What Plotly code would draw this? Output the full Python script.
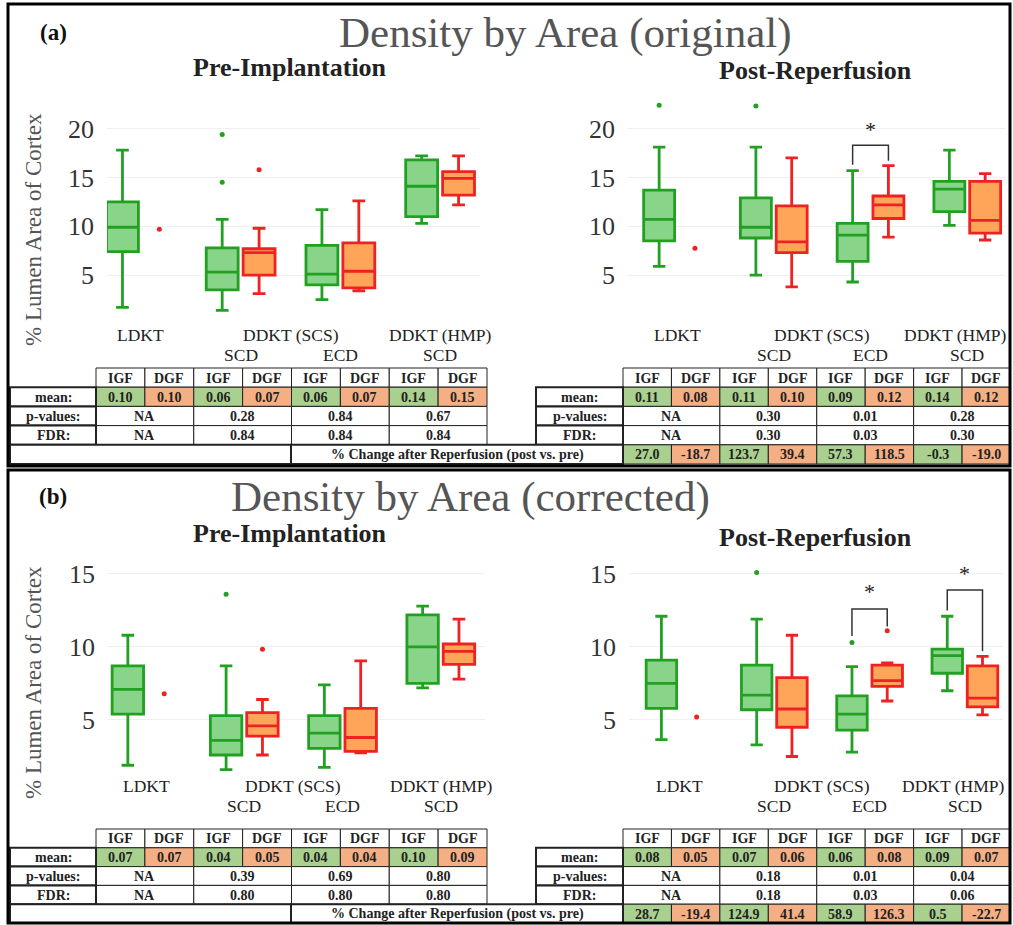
import plotly.graph_objects as go

W, H = 1013, 925
FONT = "Liberation Serif, Times New Roman, serif"

# ---------------- data ----------------
groups = ["LDKT", "SCD", "ECD", "HMP"]
dgf_groups = ["SCD", "ECD", "HMP"]
row1_labels = ["LDKT", "DDKT (SCS)", "DDKT (HMP)"]
row1_pos = [0, 1.5, 3]
row2_labels = ["SCD", "ECD", "SCD"]
row2_pos = [1, 2, 3]

# box stats: (lower whisker, q1, median, q3, upper whisker)
a_pre_igf = [(1.7, 7.4, 9.9, 12.5, 17.8), (1.4, 3.5, 5.3, 7.8, 10.7),
             (2.5, 4.0, 5.1, 8.05, 11.7), (10.3, 11.0, 14.1, 16.8, 17.2)]
a_pre_dgf = [(3.1, 5.0, 7.3, 7.7, 9.8), (3.4, 3.7, 5.4, 8.3, 12.6),
             (12.2, 13.2, 14.9, 15.6, 17.2)]
a_post_igf = [(5.9, 8.5, 10.7, 13.7, 18.1), (5.0, 8.8, 9.9, 12.9, 18.1),
              (4.3, 6.4, 9.1, 10.3, 15.7), (10.1, 11.5, 13.8, 14.6, 17.8)]
a_post_dgf = [(3.8, 7.3, 8.4, 12.1, 17.0), (8.9, 10.8, 12.2, 13.1, 16.2),
              (8.6, 9.3, 10.6, 14.6, 15.4)]
b_pre_igf = [(1.9, 5.4, 7.1, 8.7, 10.8), (1.6, 2.6, 3.6, 5.3, 8.7),
             (1.75, 3.05, 4.1, 5.3, 7.4), (7.2, 7.5, 10.0, 12.2, 12.8)]
b_pre_dgf = [(2.6, 3.9, 4.6, 5.5, 6.4), (2.75, 2.85, 3.8, 5.8, 9.05),
             (7.8, 8.8, 9.7, 10.2, 11.9)]
b_post_igf = [(3.65, 5.8, 7.5, 9.1, 12.1), (3.3, 5.7, 6.7, 8.75, 11.9),
              (2.8, 4.3, 5.4, 6.65, 8.65), (7.0, 8.2, 9.4, 9.85, 12.1)]
b_post_dgf = [(2.5, 4.5, 5.75, 7.9, 10.8), (6.3, 7.3, 7.7, 8.75, 8.9),
              (5.35, 5.9, 6.5, 8.7, 9.35)]

# single DGF LDKT observation per plot
a_pre_dgf_ldkt = 9.7
a_post_dgf_ldkt = 7.75
b_pre_dgf_ldkt = 6.8
b_post_dgf_ldkt = 5.2

# outliers: (group, value)
a_pre_out_igf = [("SCD", 19.4), ("SCD", 14.5)]
a_pre_out_dgf = [("SCD", 15.8)]
a_post_out_igf = [("LDKT", 22.4), ("SCD", 22.3)]
a_post_out_dgf = []
b_pre_out_igf = [("SCD", 13.6)]
b_pre_out_dgf = [("SCD", 9.85)]
b_post_out_igf = [("SCD", 15.1), ("ECD", 10.3)]
b_post_out_dgf = [("ECD", 11.1)]

# significance brackets: (group, top, left leg bottom, right leg bottom, star y)
a_post_sig = [("ECD", 18.3, 16.3, 16.7, 19.9)]
b_post_sig = [("ECD", 12.6, 10.75, 11.4, 13.8), ("HMP", 13.9, 12.5, 9.7, 15.0)]

# tables
a_pre_mean = [0.10, 0.10, 0.06, 0.07, 0.06, 0.07, 0.14, 0.15]
a_pre_p = ["NA", "0.28", "0.84", "0.67"]
a_pre_fdr = ["NA", "0.84", "0.84", "0.84"]
a_post_mean = [0.11, 0.08, 0.11, 0.10, 0.09, 0.12, 0.14, 0.12]
a_post_p = ["NA", "0.30", "0.01", "0.28"]
a_post_fdr = ["NA", "0.30", "0.03", "0.30"]
a_change = [27.0, -18.7, 123.7, 39.4, 57.3, 118.5, -0.3, -19.0]
b_pre_mean = [0.07, 0.07, 0.04, 0.05, 0.04, 0.04, 0.10, 0.09]
b_pre_p = ["NA", "0.39", "0.69", "0.80"]
b_pre_fdr = ["NA", "0.80", "0.80", "0.80"]
b_post_mean = [0.08, 0.05, 0.07, 0.06, 0.06, 0.08, 0.09, 0.07]
b_post_p = ["NA", "0.18", "0.01", "0.04"]
b_post_fdr = ["NA", "0.18", "0.03", "0.06"]
b_change = [28.7, -19.4, 124.9, 41.4, 58.9, 126.3, 0.5, -22.7]
status_labels = ["IGF", "DGF"]

# ---------------- style ----------------
GREEN_LINE = "#22a022"
GREEN_FILL = "#88d488"
RED_LINE = "#ee2222"
RED_FILL = "#ffa55a"
CELL_GREEN = "#a9d08e"
CELL_ORANGE = "#f4b084"
OFF = 0.185
BW = 0.32


def px(x):
    return x / W


def py(y):
    return 1 - y / H


fig = go.Figure()
shapes = []
annos = []


def text(x, y, s, size=13, bold=False, color="#222", angle=0, xref="paper", yref="paper"):
    annos.append(dict(
        x=px(x) if xref == "paper" else x, y=py(y) if yref == "paper" else y,
        xref=xref, yref=yref, text=f"<b>{s}</b>" if bold else s, showarrow=False,
        xanchor="center", yanchor="middle", textangle=angle,
        font=dict(family=FONT, size=size, color=color)))


def add_boxes(xa, ya, igf, dgf, single, out_igf, out_dgf):
    gi = {g: i for i, g in enumerate(groups)}
    for stats, gl, dx, lc, fc in [(igf, groups, -OFF, GREEN_LINE, GREEN_FILL),
                                  (dgf, dgf_groups, OFF, RED_LINE, RED_FILL)]:
        fig.add_trace(go.Box(
            x=[gi[g] + dx for g in gl],
            lowerfence=[s[0] for s in stats], q1=[s[1] for s in stats],
            median=[s[2] for s in stats], q3=[s[3] for s in stats],
            upperfence=[s[4] for s in stats],
            width=BW, whiskerwidth=0.4, boxpoints=False,
            line=dict(color=lc, width=2.8), fillcolor=fc,
            xaxis=xa, yaxis=ya, showlegend=False, hoverinfo="skip"))
    pts = [(gi[g] - OFF, v, GREEN_LINE) for g, v in out_igf]
    pts += [(gi[g] + OFF, v, RED_LINE) for g, v in out_dgf]
    pts += [(gi["LDKT"] + OFF, single, RED_LINE)]
    fig.add_trace(go.Scatter(
        x=[p[0] for p in pts], y=[p[1] for p in pts], mode="markers",
        marker=dict(color=[p[2] for p in pts], size=5, symbol="circle"),
        xaxis=xa, yaxis=ya, showlegend=False, hoverinfo="skip"))


add_boxes("x", "y", a_pre_igf, a_pre_dgf, a_pre_dgf_ldkt, a_pre_out_igf, a_pre_out_dgf)
add_boxes("x2", "y2", a_post_igf, a_post_dgf, a_post_dgf_ldkt, a_post_out_igf, a_post_out_dgf)
add_boxes("x3", "y3", b_pre_igf, b_pre_dgf, b_pre_dgf_ldkt, b_pre_out_igf, b_pre_out_dgf)
add_boxes("x4", "y4", b_post_igf, b_post_dgf, b_post_dgf_ldkt, b_post_out_igf, b_post_out_dgf)


def add_sig(xa, ya, sig):
    gi = {g: i for i, g in enumerate(groups)}
    for g, top, lb, rb, star in sig:
        x0, x1 = gi[g] - OFF, gi[g] + OFF
        shapes.append(dict(type="path", xref=xa, yref=ya,
                           path=f"M {x0},{lb} L {x0},{top} L {x1},{top} L {x1},{rb}",
                           line=dict(color="#333", width=1.5)))
        annos.append(dict(x=gi[g], y=star, xref=xa, yref=ya, text="*", showarrow=False,
                          font=dict(family=FONT, size=22, color="#222")))


add_sig("x2", "y2", a_post_sig)
add_sig("x4", "y4", b_post_sig)

# category labels
for xa, y1, y2, right in [("x", 335, 355, False), ("x2", 335, 355, True),
                          ("x3", 798, 818, False), ("x4", 798, 818, True)]:
    for lab, pos in zip(row1_labels, row1_pos):
        shift = -12 if (right and pos == 3) else 0
        annos.append(dict(x=pos, y=py(y1), xref=xa, yref="paper", text=lab, showarrow=False,
                          xshift=shift, font=dict(family=FONT, size=17.5, color="#222")))
    for lab, pos in zip(row2_labels, row2_pos):
        annos.append(dict(x=pos, y=py(y2), xref=xa, yref="paper", text=lab, showarrow=False,
                          font=dict(family=FONT, size=17.5, color="#222")))


# ---------------- tables ----------------
def cell(x0, y0, x1, y1, s="", fill="white", lw=1, bold=True):
    shapes.append(dict(type="rect", xref="paper", yref="paper",
                       x0=px(x0), x1=px(x1), y0=py(y1), y1=py(y0),
                       fillcolor=fill, line=dict(color="#222", width=lw), layer="above"))
    if s != "":
        text((x0 + x1) / 2, (y0 + y1) / 2 + 0.5, s, size=14, bold=bold, color="#222")


def table(x0, label_x0, top, rh, mean, pv, fdr, change=None):
    cw = (387.5 if x0 > 500 else 391.0) / 8
    r = [top + k * rh for k in range(6)]
    for k in range(8):
        cell(x0 + k * cw, r[0], x0 + (k + 1) * cw, r[1], status_labels[k % 2])
        cell(x0 + k * cw, r[1], x0 + (k + 1) * cw, r[2], f"{mean[k]:.2f}",
             fill=CELL_GREEN if k % 2 == 0 else CELL_ORANGE)
    for k in range(4):
        cell(x0 + 2 * k * cw, r[2], x0 + 2 * (k + 1) * cw, r[3], pv[k])
        cell(x0 + 2 * k * cw, r[3], x0 + 2 * (k + 1) * cw, r[4], fdr[k])
    for lab, i in [("mean:", 1), ("p-values:", 2), ("FDR:", 3)]:
        cell(label_x0, r[i], x0, r[i + 1], lab, lw=2)
    if change is not None:
        for k in range(8):
            cell(x0 + k * cw, r[4], x0 + (k + 1) * cw, r[5], f"{change[k]:.1f}",
                 fill=CELL_GREEN if k % 2 == 0 else CELL_ORANGE)
        cell(10, r[4], 291, r[5], lw=2)
        cell(291, r[4], x0, r[5], "% Change after Reperfusion (post vs. pre)", lw=2)


RH = 19.2
table(96, 10, 368, RH, a_pre_mean, a_pre_p, a_pre_fdr)
table(623, 536, 368, RH, a_post_mean, a_post_p, a_post_fdr, a_change)
table(96, 10, 829, 18.8, b_pre_mean, b_pre_p, b_pre_fdr)
table(623, 536, 829, 18.8, b_post_mean, b_post_p, b_post_fdr, b_change)

# panel frames
for y0, y1 in [(4, 466), (470, 923)]:
    shapes.append(dict(type="rect", xref="paper", yref="paper", x0=px(8), x1=px(1010),
                       y0=py(y1), y1=py(y0), line=dict(color="black", width=3),
                       fillcolor="rgba(0,0,0,0)", layer="above"))

# titles
text(53, 33, "(a)", size=23, bold=True, color="#111")
text(565, 33, "Density by Area (original)", size=43, color="#555")
text(290, 67, "Pre-Implantation", size=26, bold=True, color="#222")
text(815, 70, "Post-Reperfusion", size=26, bold=True, color="#222")
text(33, 230, "% Lumen Area of Cortex", size=23, color="#555", angle=-90)
text(53, 497, "(b)", size=23, bold=True, color="#111")
text(470, 497, "Density by Area (corrected)", size=43, color="#555")
text(290, 533, "Pre-Implantation", size=26, bold=True, color="#222")
text(815, 537, "Post-Reperfusion", size=26, bold=True, color="#222")
text(33, 683, "% Lumen Area of Cortex", size=23, color="#555", angle=-90)

# ---------------- axes ----------------
def xax(d0, d1, r0, r1, anchor):
    return dict(domain=[px(d0), px(d1)], range=[r0, r1], showticklabels=False,
                showgrid=False, zeroline=False, showline=False, ticks="", anchor=anchor)


def yax(d0, d1, rng, tv, anchor):
    return dict(domain=[py(d1), py(d0)], range=rng, tickvals=tv, showgrid=True,
                gridcolor="#efefef", gridwidth=1, zeroline=False, showline=False, ticks="",
                ticklabelstandoff=12, anchor=anchor,
                tickfont=dict(family=FONT, size=26, color="#333"))


fig.update_layout(
    width=W, height=H, margin=dict(l=0, r=0, t=0, b=0),
    paper_bgcolor="white", plot_bgcolor="white", boxmode="overlay",
    xaxis=xax(107, 480, -0.34, 3.40, "y"),
    xaxis2=xax(628, 1005, -0.507, 3.39, "y2"),
    xaxis3=xax(108, 485, -0.387, 3.45, "y3"),
    xaxis4=xax(629, 1003, -0.525, 3.40, "y4"),
    yaxis=yax(94.4, 324, [0, 23.5], [5, 10, 15, 20], "x"),
    yaxis2=yax(94.4, 324, [0, 23.5], [5, 10, 15, 20], "x2"),
    yaxis3=yax(552, 793, [0, 16.5], [5, 10, 15], "x3"),
    yaxis4=yax(552, 793, [0, 16.5], [5, 10, 15], "x4"),
    shapes=shapes, annotations=annos, showlegend=False,
)

fig.write_html("out.html")
